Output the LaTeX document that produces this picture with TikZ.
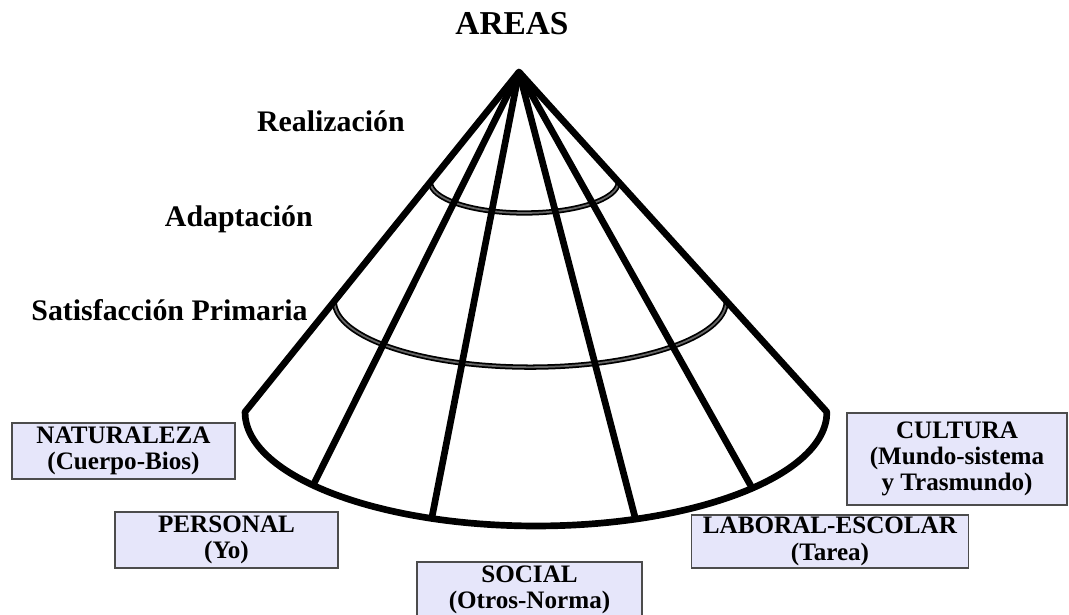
\documentclass[tikz,border=0pt]{standalone}
\usepackage{fontspec}
\setmainfont{Liberation Serif}
\usetikzlibrary{calc}
\definecolor{boxfill}{HTML}{E6E6FA}

\begin{document}
\begin{tikzpicture}[x=0.02cm,y=0.02cm,
  ray/.style={line width=3.8pt,line join=round},
  ring/.style={draw=black,double=black!60,double distance=1pt,line width=1pt},
  level/.style={font=\bfseries\fontsize{17}{20}\selectfont,anchor=base east,inner sep=0pt},
  area/.style={draw=black!70,line width=0.9pt,fill=boxfill,align=center,
    minimum height=1.12cm,inner sep=0pt,font=\bfseries\fontsize{14.3}{15}\selectfont}]
  \useasboundingbox (0,0) rectangle (1069,-615);
  \node[font=\bfseries\fontsize{19}{22}\selectfont,anchor=base,inner sep=0pt] (title) at (512,-35) {AREAS};
  \coordinate (apex) at (519,-72);
  \coordinate (base) at (536,-412);
  \coordinate (left) at (245,-412);
  % rings
  \coordinate (r1) at ($(apex)!0.3235!(left)$);
  \coordinate (r2) at ($(apex)!0.674!(left)$);
  \draw[ring] (r1) arc[start angle=180,end angle=360,x radius=1.88cm,y radius=0.62cm];
  \draw[ring] (r2) arc[start angle=180,end angle=360,x radius=3.92cm,y radius=1.32cm];
  % cone
  \draw[ray] (apex) -- (left) arc[start angle=180,end angle=360,x radius=5.82cm,y radius=2.28cm] -- cycle;
  \foreach \a in {220,249,290,318}
    \draw[ray] (apex) -- ($(base)+(\a:5.82cm and 2.28cm)$);
  % levels
  \node[level] (realizacion) at (405,-132) {Realización};
  \node[level] (adaptacion) at (313,-226) {Adaptación};
  \node[level] (satisfaccion) at (308,-320) {Satisfacción Primaria};
  % areas
  \node[area,minimum width=4.46cm] (naturaleza) at (123.5,-451) {NATURALEZA\\(Cuerpo-Bios)};
  \node[area,minimum width=4.46cm] (personal) at (226.5,-540) {PERSONAL\\(Yo)};
  \node[area,minimum width=4.5cm] (social) at (529.5,-590) {SOCIAL\\(Otros-Norma)};
  \node[area,minimum width=5.54cm,minimum height=1.06cm] (laboral) at (830,-541.5) {LABORAL-ESCOLAR\\(Tarea)};
  \node[area,minimum width=4.4cm,minimum height=1.84cm] (cultura) at (957,-459) {CULTURA\\(Mundo-sistema\\y Trasmundo)};
\end{tikzpicture}
\end{document}
